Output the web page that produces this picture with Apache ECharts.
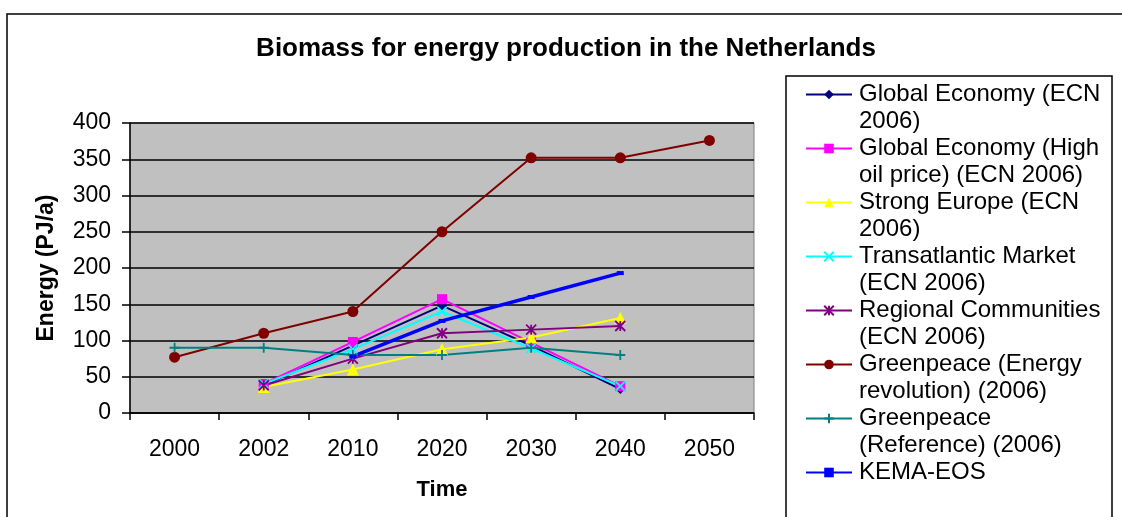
<!DOCTYPE html>
<html>
<head>
<meta charset="utf-8">
<title>Biomass for energy production in the Netherlands</title>
<script src="https://cdn.jsdelivr.net/npm/echarts@6/dist/echarts.min.js"></script>
<style>
  html, body { margin: 0; padding: 0; background: #ffffff; }
  #chart { width: 1122px; height: 517px; }
</style>
</head>
<body>
<div id="chart"></div>
<script>
// Biomass for energy production (PJ/a), scenarios by year
const years = ['2000', '2002', '2010', '2020', '2030', '2040', '2050'];
const yTicks = [0, 50, 100, 150, 200, 250, 300, 350, 400];

const globalEconomy        = [null, 38, 93, 148, 93, 33, null];
const globalEconomyHighOil = [null, 40, 98, 157, 97, 37, null];
const strongEurope         = [null, 36, 60, 88, 104, 131, null];
const transatlanticMarket  = [null, 40, 88, 140, 89, 37, null];
const regionalCommunities  = [null, 38, 75, 110, 115, 120, null];
const greenpeaceRevolution = [77, 110, 140, 250, 352, 352, 376];
const greenpeaceReference  = [90, 90, 80, 80, 90, 80, null];
const kemaEos              = [null, null, 78, 127, 160, 193, null];

const seriesNames = [
  'Global Economy (ECN 2006)',
  'Global Economy (High oil price) (ECN 2006)',
  'Strong Europe (ECN 2006)',
  'Transatlantic Market (ECN 2006)',
  'Regional Communities (ECN 2006)',
  'Greenpeace (Energy revolution) (2006)',
  'Greenpeace (Reference) (2006)',
  'KEMA-EOS'
];
// legend text wrapped to the width of the legend box
const legendLabels = [
  ['Global Economy (ECN', '2006)'],
  ['Global Economy (High', 'oil price) (ECN 2006)'],
  ['Strong Europe (ECN', '2006)'],
  ['Transatlantic Market', '(ECN 2006)'],
  ['Regional Communities', '(ECN 2006)'],
  ['Greenpeace (Energy', 'revolution) (2006)'],
  ['Greenpeace', '(Reference) (2006)'],
  ['KEMA-EOS', ' ']
];

const FONT = '"Liberation Sans", Arial, Helvetica, sans-serif';
const SYM_X = 'path://M0,0L10,10M10,0L0,10';
const SYM_STAR = 'path://M0,0L10,10M10,0L0,10M5,0L5,10';
const SYM_PLUS = 'path://M5,0L5,10M0,5L10,5';

function lineSeries(name, data, color, symbol, size, width, stroke) {
  return {
    name: name,
    type: 'line',
    data: data,
    connectNulls: false,
    symbol: symbol,
    symbolSize: size,
    showSymbol: true,
    lineStyle: { color: color, width: width },
    itemStyle: {
      color: stroke ? 'rgba(0,0,0,0)' : color,
      borderColor: color,
      borderWidth: stroke ? 1.8 : 0
    },
    emphasis: { disabled: true },
    z: 3
  };
}

const chart = echarts.init(document.getElementById('chart'), null, { renderer: 'canvas' });

chart.setOption({
  animation: false,
  backgroundColor: '#ffffff',
  textStyle: { fontFamily: FONT },
  title: {
    text: 'Biomass for energy production in the Netherlands',
    left: 566,
    top: 36,
    textAlign: 'center',
    padding: 0,
    textStyle: { fontFamily: FONT, fontSize: 26, fontWeight: 'bold', color: '#000' }
  },
  graphic: [
    {
      type: 'rect',
      shape: { x: 7, y: 14, width: 1200, height: 600 },
      style: { fill: 'none', stroke: '#000', lineWidth: 1.5 },
      silent: true, z: -10
    },
    {
      type: 'rect',
      shape: { x: 786, y: 76, width: 326, height: 600 },
      style: { fill: '#fff', stroke: '#000', lineWidth: 1.5 },
      silent: true, z: -5
    }
  ],
  legend: {
    orient: 'vertical',
    left: 805,
    top: 54,
    padding: 0,
    itemWidth: 46,
    itemHeight: 12,
    itemGap: -27,
    selectedMode: false,
    data: seriesNames,
    // a blank first line keeps the marker level with the first text line
    formatter: function (name) {
      const lines = legendLabels[seriesNames.indexOf(name)];
      return ' \n' + lines.join('\n');
    },
    textStyle: {
      fontFamily: FONT, fontSize: 24, color: '#000',
      lineHeight: 27, padding: [0, 0, 0, 2]
    }
  },
  grid: {
    left: 130, right: 368, top: 123, bottom: 104,
    show: true,
    backgroundColor: '#C0C0C0',
    borderColor: '#808080',
    borderWidth: 1
  },
  xAxis: {
    type: 'category',
    data: years,
    boundaryGap: true,
    name: 'Time',
    nameLocation: 'middle',
    nameGap: 66,
    nameTextStyle: { fontFamily: FONT, fontSize: 22, fontWeight: 'bold', color: '#000' },
    axisLine: { lineStyle: { color: '#000', width: 1.5 } },
    axisTick: { show: true, length: 7, alignWithLabel: false, lineStyle: { color: '#000', width: 1.5 } },
    axisLabel: { fontFamily: FONT, fontSize: 23, color: '#000', margin: 25 },
    splitLine: { show: false }
  },
  yAxis: {
    type: 'value',
    min: yTicks[0],
    max: yTicks[yTicks.length - 1],
    interval: yTicks[1] - yTicks[0],
    name: 'Energy (PJ/a)',
    nameLocation: 'middle',
    nameGap: 72,
    nameTextStyle: { fontFamily: FONT, fontSize: 23, fontWeight: 'bold', color: '#000' },
    axisLine: { show: true, lineStyle: { color: '#000', width: 1.5 } },
    axisTick: { show: true, length: 8, lineStyle: { color: '#000', width: 1.5 } },
    axisLabel: { fontFamily: FONT, fontSize: 23, color: '#000', margin: 19 },
    splitLine: { show: true, lineStyle: { color: '#000', width: 1.5 } }
  },
  series: [
    lineSeries(seriesNames[0], globalEconomy, '#000080', 'diamond', 10, 2, false),
    lineSeries(seriesNames[1], globalEconomyHighOil, '#FF00FF', 'rect', 10, 2, false),
    lineSeries(seriesNames[2], strongEurope, '#FFFF00', 'triangle', 12, 2, false),
    lineSeries(seriesNames[3], transatlanticMarket, '#00FFFF', SYM_X, 9, 2, true),
    lineSeries(seriesNames[4], regionalCommunities, '#800080', SYM_STAR, 10, 2, true),
    lineSeries(seriesNames[5], greenpeaceRevolution, '#800000', 'circle', 11, 2, false),
    lineSeries(seriesNames[6], greenpeaceReference, '#008080', SYM_PLUS, 10, 2, true),
    lineSeries(seriesNames[7], kemaEos, '#0000FF', 'rect', [7, 4], 3.5, false)
  ]
});
</script>
</body>
</html>
